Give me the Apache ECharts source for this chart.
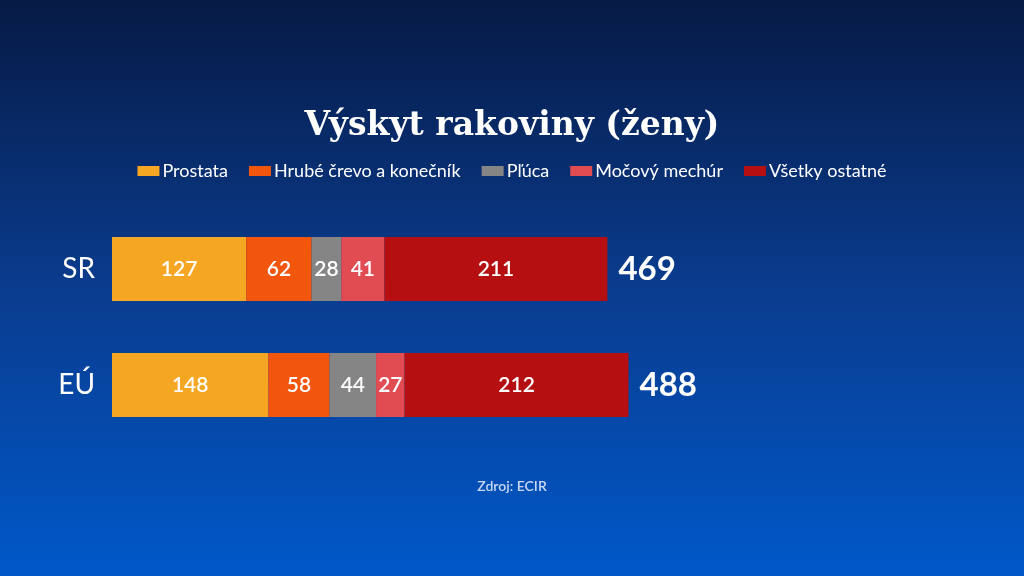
<!DOCTYPE html>
<html>
<head>
<meta charset="utf-8">
<script src="https://cdn.jsdelivr.net/npm/echarts@6/dist/echarts.min.js"></script>
<style>html,body{margin:0;padding:0;}#c{width:1024px;height:576px;}</style>
</head>
<body>
<div id="c"></div>
<script>
const categories = ['SR', 'EÚ'];
const seriesNames = ['Prostata', 'Hrubé črevo a konečník', 'Pľúca', 'Močový mechúr', 'Všetky ostatné'];
const prostata = [127, 148];
const hrubeCrevo = [62, 58];
const pluca = [28, 44];
const mocovyMechur = [41, 27];
const vsetkyOstatne = [211, 212];
const totals = [469, 488];
const colors = ['#f5a623', '#f2550c', '#858585', '#e14b52', '#b50f12'];

const values = [prostata, hrubeCrevo, pluca, mocovyMechur, vsetkyOstatne];
const font = 'Lato';

const series = seriesNames.map((n, i) => ({
  name: n,
  type: 'bar',
  stack: 'a',
  barWidth: 64,
  data: values[i],
  itemStyle: { color: colors[i] },
  label: { show: true, position: 'inside', color: '#fff', fontSize: 21, fontFamily: font, fontWeight: 600 }
}));
series.push({
  name: 'Spolu',
  type: 'bar',
  stack: 'a',
  barWidth: 64,
  data: [0, 0],
  itemStyle: { color: 'transparent' },
  label: {
    show: true, position: 'right', distance: 11, color: '#fff', fontSize: 33, fontWeight: 'bold', fontFamily: font,
    formatter: p => totals[p.dataIndex]
  }
});

const chart = echarts.init(document.getElementById('c'));
chart.setOption({
  backgroundColor: new echarts.graphic.LinearGradient(0, 0, 0, 1, [
    { offset: 0, color: '#061a45' },
    { offset: 0.5, color: '#0a3c8e' },
    { offset: 1, color: '#0058c9' }
  ]),
  animation: false,
  title: [{
    text: 'Výskyt rakoviny (ženy)',
    left: 'center', top: 105,
    textStyle: { color: '#fff', fontFamily: 'DejaVu Serif', fontWeight: 'bold', fontSize: 33 }
  }, {
    text: 'Zdroj: ECIR',
    left: 'center', top: 474,
    textStyle: { color: '#c9d8f2', fontFamily: font, fontWeight: 600, fontSize: 14 }
  }],
  legend: {
    data: seriesNames,
    top: 157, left: 'center',
    itemWidth: 22, itemHeight: 10, itemGap: 21,
    icon: 'rect',
    textStyle: { color: '#fff', fontSize: 18, fontFamily: font, padding: [0, 0, 0, -2] }
  },
  grid: { left: 112, right: 67, top: 211, bottom: 133 },
  xAxis: { type: 'value', min: 0, max: 800, show: false },
  yAxis: {
    type: 'category', data: categories, inverse: true,
    axisLine: { show: false }, axisTick: { show: false },
    axisLabel: { color: '#fff', fontSize: 28, fontFamily: font, margin: 17 }
  },
  series: series
});
</script>
</body>
</html>
